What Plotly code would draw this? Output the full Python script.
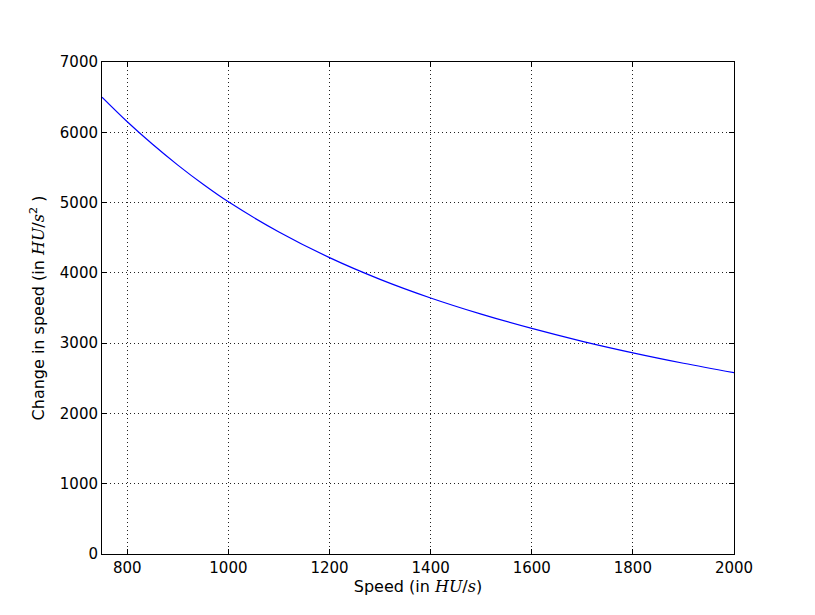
import plotly.graph_objects as go

speed = [750, 800, 850, 900, 950, 1000, 1100, 1200, 1300, 1400, 1500, 1600, 1700, 1800, 1900, 2000]
accel = [6500, 6150, 5829, 5533, 5260, 5010, 4582, 4217, 3908, 3643, 3413, 3209, 3026, 2862, 2714, 2580]

x_ticks = [800, 1000, 1200, 1400, 1600, 1800, 2000]
y_ticks = [0, 1000, 2000, 3000, 4000, 5000, 6000, 7000]

MATH = "font-family:'DejaVu Serif';font-style:italic"

fig = go.Figure()
fig.add_trace(go.Scatter(x=speed, y=accel, mode="lines", line=dict(color="#0000ff", width=1.2, shape="spline"),
                         showlegend=False, hoverinfo="skip"))

axis_common = dict(
    showline=True, linecolor="black", linewidth=1, mirror="allticks",
    ticks="inside", ticklen=5, tickcolor="black", tickwidth=1,
    showgrid=True, gridcolor="#222222", griddash="1px,3px", gridwidth=1,
    zeroline=False, tickfont=dict(family="DejaVu Sans", size=15, color="black"),
)

fig.update_xaxes(range=[750, 2000], tickvals=x_ticks, ticktext=[str(v) for v in x_ticks],
                 title=dict(text=f"Speed (in <span style=\"{MATH}\">HU</span>/<span style=\"{MATH}\">s</span>)",
                            font=dict(family="DejaVu Sans", size=16, color="black"), standoff=4),
                 **axis_common)
fig.update_yaxes(range=[0, 7000], tickvals=y_ticks, ticktext=[str(v) for v in y_ticks],
                 title=dict(text=f"Change in speed (in <span style=\"{MATH}\">HU</span>/<span style=\"{MATH}\">s</span><sup>2</sup> )",
                            font=dict(family="DejaVu Sans", size=16, color="black"), standoff=11),
                 **axis_common)

fig.update_layout(width=815, height=615, margin=dict(l=94, r=89, t=54, b=69, autoexpand=False),
                  paper_bgcolor="white", plot_bgcolor="white")

fig.write_html("out.html")
